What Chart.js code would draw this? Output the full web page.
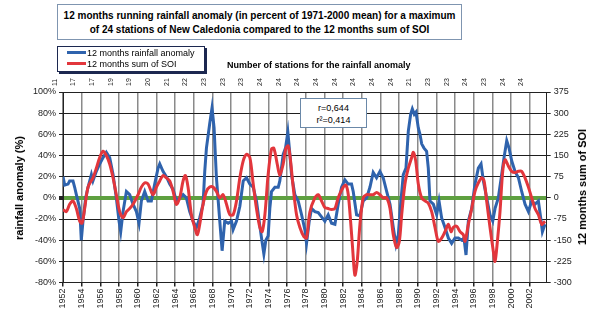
<!DOCTYPE html>
<html>
<head>
<meta charset="utf-8">
<script src="https://cdn.jsdelivr.net/npm/chart.js@4.4.1/dist/chart.umd.min.js"></script>
<style>
  body { margin: 0; background: #fff; }
  #wrap { position: relative; width: 600px; height: 322px; font-family: "Liberation Sans", Arial, sans-serif; color: #000; }
  #chart { position: absolute; left: 0; top: 0; }
  .box { position: absolute; background: #fff; box-sizing: border-box; }
  #title { left: 57px; top: 4px; width: 405px; height: 36px; border: 1px solid #7f95b0; font-weight: bold; font-size: 10px; line-height: 14px; text-align: center; padding-top: 4px; }
  #legend { left: 57px; top: 46px; width: 148px; height: 26px; border: 1px solid #1c2850; box-shadow: 2px 2px 0 #1c2850; font-size: 9px; }
  .item { position: absolute; left: 9px; height: 11px; line-height: 11px; white-space: nowrap; }
  .item i { display: inline-block; width: 19px; height: 3px; vertical-align: middle; margin-right: 1px; position: relative; top: -1px; }
  #stations { position: absolute; left: 227px; top: 60px; font-size: 9px; font-weight: bold; white-space: nowrap; }
  #rbox { left: 300px; top: 98px; width: 67px; height: 30px; border: 1px solid #6a88a8; font-size: 9px; line-height: 12px; text-align: center; padding-top: 3px; }
  .ytitle { position: absolute; font-weight: bold; font-size: 11px; white-space: nowrap; transform: translate(-50%, -50%) rotate(-90deg); }
</style>
</head>
<body>
<div id="wrap">
  <canvas id="chart" width="600" height="322"></canvas>
  <div id="title" class="box">12 months running rainfall anomaly (in percent of 1971-2000 mean) for a maximum<br>of 24 stations of New Caledonia compared to the 12 months sum of SOI</div>
  <div id="legend" class="box">
    <div class="item" style="top:1px"><i style="background:#2f63ad"></i>12 months rainfall anomaly</div>
    <div class="item" style="top:12px"><i style="background:#e2363c"></i>12 months sum of SOI</div>
  </div>
  <div id="stations">Number of stations for the rainfall anomaly</div>
  <div id="rbox" class="box">r=0,644<br>r²=0,414</div>
  <div class="ytitle" style="left:19px; top:188px">rainfall anomaly (%)</div>
  <div class="ytitle" style="left:582px; top:187px">12 months sum of SOI</div>
</div>
<script>
"use strict";

// stations count, one label every 2 years from 1952 to 2002
const stationCounts = [11, 17, 17, 19, 19, 20, 21, 22, 23, 23, 23, 24, 24,
                       24, 24, 24, 24, 24, 24, 21, 23, 23, 24, 23, 24, 24];

// 12 months rainfall anomaly (%)
const rainYears = [
  1952.00, 1952.18, 1952.54, 1952.71, 1953.07, 1953.25, 1953.43, 1953.79, 1953.96, 1954.14,
  1954.43, 1954.68, 1955.04, 1955.21, 1955.57, 1955.93, 1956.29, 1956.64, 1957.00, 1957.36,
  1957.71, 1958.00, 1958.18, 1958.43, 1958.79, 1959.14, 1959.50, 1959.86, 1960.14, 1960.39,
  1960.75, 1961.11, 1961.46, 1961.82, 1962.18, 1962.36, 1962.71, 1963.07, 1963.43, 1963.79,
  1964.14, 1964.50, 1964.86, 1965.21, 1965.57, 1965.93, 1966.29, 1966.64, 1967.00, 1967.18,
  1967.36, 1967.71, 1967.96, 1968.18, 1968.43, 1968.79, 1969.04, 1969.32, 1969.69, 1970.05,
  1970.22, 1970.58, 1970.94, 1971.30, 1971.65, 1972.01, 1972.37, 1972.72, 1973.01, 1973.26,
  1973.51, 1973.72, 1973.97, 1974.15, 1974.33, 1974.69, 1975.05, 1975.22, 1975.58, 1975.83,
  1976.08, 1976.30, 1976.47, 1976.83, 1977.19, 1977.55, 1977.90, 1978.08, 1978.37, 1978.62,
  1978.97, 1979.33, 1979.69, 1980.04, 1980.40, 1980.76, 1981.12, 1981.47, 1981.83, 1982.19,
  1982.54, 1982.90, 1983.08, 1983.44, 1983.79, 1984.15, 1984.51, 1984.87, 1985.22, 1985.58,
  1985.94, 1986.29, 1986.66, 1987.02, 1987.37, 1987.66, 1987.91, 1988.16, 1988.44, 1988.73,
  1988.98, 1989.23, 1989.41, 1989.62, 1989.80, 1990.05, 1990.23, 1990.41, 1990.66, 1990.94,
  1991.12, 1991.30, 1991.66, 1992.02, 1992.27, 1992.55, 1992.91, 1993.27, 1993.62, 1993.98,
  1994.34, 1994.69, 1994.94, 1995.16, 1995.41, 1995.77, 1996.12, 1996.48, 1996.77, 1997.02,
  1997.37, 1997.73, 1998.02, 1998.27, 1998.62, 1998.98, 1999.23, 1999.52, 1999.77, 2000.05,
  2000.41, 2000.77, 2001.12, 2001.48, 2001.84, 2002.19, 2002.55, 2002.91, 2003.16, 2003.34,
  2003.62
];
const rainPct = [
  20, 12, 13, 16, 16, 10, 3, -10, -40, -22,
  0, 10, 22, 16, 25, 32, 38, 43, 38, 22,
  0, -22, -32, -13, 6, 3, -6, -13, -24, -3,
  6, -3, -3, 13, 28, 32, 25, 20, 13, 8,
  -3, 0, 3, 0, -13, -22, -28, -19, -6, 25,
  47, 70, 85, 66, 19, -22, -50, -22, -24, -22,
  -30, -22, -8, 16, 19, 13, 10, -3, -22, -38,
  -53, -40, -36, -10, 6, 10, 10, 16, 41, 47,
  62, 41, 22, 3, -3, -16, -30, -43, -22, -10,
  -13, -14, -18, -22, -16, -24, -25, -6, 10, 17,
  13, 13, 6, -16, -17, -3, 0, 10, 24, 19,
  25, 19, 6, -6, -28, -44, -35, -6, 22, 28,
  63, 79, 84, 79, 81, 66, 60, 51, 47, 44,
  28, -3, -6, -16, -3, -19, -28, -38, -43, -38,
  -38, -40, -38, -54, -22, -10, 13, 28, 32, 16,
  0, -16, -22, -10, 0, 22, 38, 54, 47, 35,
  25, 19, 6, -6, -13, -3, -6, -3, -19, -32,
  -25
];

// 12 months sum of SOI
const soiYears = [
  1952.00, 1952.36, 1952.71, 1953.07, 1953.43, 1953.79, 1954.04, 1954.32, 1954.68, 1955.21,
  1955.57, 1955.93, 1956.29, 1956.64, 1957.00, 1957.36, 1957.71, 1958.07, 1958.43, 1958.79,
  1959.14, 1959.50, 1960.04, 1960.39, 1960.75, 1961.11, 1961.64, 1962.00, 1962.36, 1962.71,
  1963.07, 1963.43, 1963.79, 1964.14, 1964.50, 1964.86, 1965.11, 1965.39, 1965.75, 1966.11,
  1966.39, 1966.64, 1967.00, 1967.36, 1967.71, 1968.07, 1968.43, 1968.79, 1969.15, 1969.51,
  1969.87, 1970.22, 1970.58, 1970.94, 1971.30, 1971.65, 1972.01, 1972.37, 1972.72, 1973.08,
  1973.33, 1973.62, 1973.97, 1974.33, 1974.58, 1974.94, 1975.22, 1975.58, 1975.87, 1976.12,
  1976.37, 1976.65, 1977.01, 1977.37, 1977.80, 1978.08, 1978.44, 1978.97, 1979.33, 1979.69,
  1980.04, 1980.40, 1980.76, 1981.12, 1981.47, 1982.01, 1982.30, 1982.55, 1982.80, 1983.01,
  1983.26, 1983.51, 1983.80, 1984.15, 1984.51, 1984.87, 1985.22, 1985.58, 1985.94, 1986.29,
  1986.66, 1987.02, 1987.37, 1987.73, 1988.02, 1988.27, 1988.62, 1988.98, 1989.34, 1989.52,
  1989.77, 1990.05, 1990.41, 1990.77, 1991.12, 1991.48, 1991.84, 1992.19, 1992.55, 1992.91,
  1993.27, 1993.55, 1993.80, 1994.16, 1994.52, 1994.87, 1995.05, 1995.41, 1995.77, 1996.12,
  1996.48, 1996.84, 1997.09, 1997.37, 1997.73, 1998.09, 1998.27, 1998.52, 1998.80, 1999.09,
  1999.34, 1999.69, 2000.05, 2000.41, 2000.77, 2001.12, 2001.48, 2001.84, 2002.19, 2002.55,
  2002.91, 2003.27, 2003.62
];
const soiSum = [
  -41, -49, -23, -11, -38, -83, -90, -38, 38, 71,
  105, 143, 165, 150, 120, 71, 11, -49, -71, -49,
  -38, -23, 11, 38, 53, 49, 11, 38, 60, 79,
  71, 60, 23, -23, 0, 60, 79, 38, -60, -105,
  -131, -94, -23, 23, 38, 38, 23, 0, 11, -23,
  -60, -60, -11, 71, 131, 154, 143, 49, -38, -105,
  -120, -60, 83, 173, 176, 120, 79, 120, 176, 184,
  131, 38, -60, -105, -138, -142, -50, 0, 11, -11,
  -34, -38, -41, -38, 0, 38, 45, 11, -83, -176,
  -274, -225, -94, 0, 11, 11, 11, 19, 11, 0,
  0, -38, -131, -176, -154, -60, 49, 105, 143, 161,
  131, 49, 0, -11, -19, -49, -105, -154, -143, -120,
  -94, -120, -105, -101, -120, -131, -154, -94, -38, 23,
  53, 71, 60, -11, -105, -191, -225, -154, -49, 94,
  135, 113, 94, 90, 94, 94, 71, 38, 0, -38,
  -60, -94, -83
];

const toPoints = (xs, ys) => xs.map((x, i) => ({ x: x, y: ys[i] }));

new Chart(document.getElementById('chart'), {
  type: 'line',
  data: {
    datasets: [{
      label: '12 months rainfall anomaly',
      data: toPoints(rainYears, rainPct),
      borderColor: '#2f63ad',
      borderWidth: 3,
      pointRadius: 0,
      tension: 0,
      yAxisID: 'y',
      xAxisID: 'x',
      order: 2
    }, {
      label: '12 months sum of SOI',
      data: toPoints(soiYears, soiSum),
      borderColor: '#e2363c',
      borderWidth: 3,
      pointRadius: 0,
      tension: 0.3,
      yAxisID: 'y2',
      xAxisID: 'x',
      order: 1
    }]
  },
  options: {
    responsive: false,
    animation: false,
    devicePixelRatio: 1,
    layout: { padding: 0 },
    plugins: {
      legend: { display: false },
      title: { display: false },
      tooltip: { enabled: false }
    },
    scales: {
      x: {
        type: 'linear',
        position: 'bottom',
        min: 1952,
        max: 2003.8,
        afterFit: (s) => { s.height = 39.5; },
        ticks: {
          stepSize: 2,
          includeBounds: false,
          autoSkip: false,
          minRotation: 90,
          maxRotation: 90,
          padding: 2,
          color: '#222',
          font: { family: 'Liberation Sans', size: 9 },
          callback: (v) => String(v)
        },
        grid: { color: '#8a8a8a', lineWidth: 1.5, tickLength: 4, tickColor: '#222' },
        border: { color: '#222', width: 1 }
      },
      x2: {
        type: 'linear',
        position: 'top',
        min: 1952,
        max: 2003.8,
        afterFit: (s) => { s.height = 92; },
        ticks: {
          stepSize: 2,
          includeBounds: false,
          autoSkip: false,
          minRotation: 90,
          maxRotation: 90,
          padding: 6,
          color: '#222',
          font: { family: 'Liberation Sans', size: 7 },
          callback: (v) => stationCounts[Math.round((v - 1952) / 2)]
        },
        grid: { drawOnChartArea: false, drawTicks: false },
        border: { color: '#222', width: 1 }
      },
      y: {
        position: 'left',
        min: -80,
        max: 100,
        afterFit: (s) => { s.width = 63; },
        ticks: {
          stepSize: 20,
          padding: 3,
          color: '#222',
          font: { family: 'Liberation Sans', size: 9 },
          callback: (v) => v + '%'
        },
        grid: {
          color: (c) => c.tick && c.tick.value === 0 ? '#5ea040' : '#1e1e1e',
          lineWidth: (c) => c.tick && c.tick.value === 0 ? 4 : 1,
          tickLength: 4,
          tickColor: '#222'
        },
        border: { color: '#222', width: 1 }
      },
      y2: {
        position: 'right',
        min: -300,
        max: 375,
        afterFit: (s) => { s.width = 53.3; },
        ticks: {
          stepSize: 75,
          padding: 3,
          color: '#222',
          font: { family: 'Liberation Sans', size: 9 }
        },
        grid: { drawOnChartArea: false, tickLength: 4, tickColor: '#222' },
        border: { color: '#222', width: 1 }
      }
    }
  }
});
</script>
</body>
</html>
